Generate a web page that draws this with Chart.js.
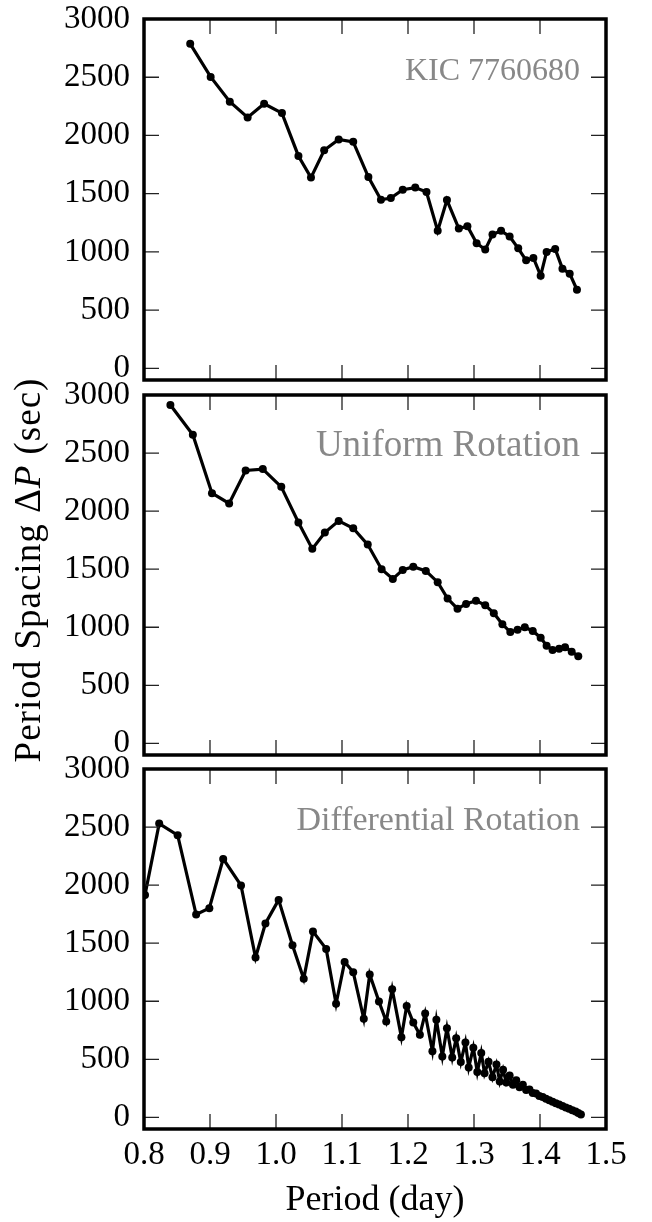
<!DOCTYPE html>
<html>
<head>
<meta charset="utf-8">
<script src="https://cdn.jsdelivr.net/npm/chart.js@4.4.1/dist/chart.umd.min.js"></script>
<style>
  html, body { margin: 0; padding: 0; background: #fff; }
  #wrap { position: relative; width: 652px; height: 1222px; }
  #wrap canvas { position: absolute; left: 0; top: 0; }
</style>
</head>
<body>
<div id="wrap">
  <canvas id="kicChart" width="652" height="1222"></canvas>
  <canvas id="uniformChart" width="652" height="1222"></canvas>
  <canvas id="diffChart" width="652" height="1222"></canvas>
</div>
<script>
const periodTicks  = [0.8, 0.9, 1.0, 1.1, 1.2, 1.3, 1.4, 1.5];
const spacingTicks = [0, 500, 1000, 1500, 2000, 2500, 3000];

// KIC 7760680 (observed)
const kicPeriod  = [0.870, 0.901, 0.930, 0.957, 0.982, 1.009, 1.034, 1.053, 1.073, 1.095, 1.117, 1.140,
                    1.159, 1.174, 1.192, 1.211, 1.228, 1.245, 1.259, 1.277, 1.290, 1.304, 1.317, 1.328,
                    1.341, 1.354, 1.367, 1.379, 1.390, 1.401, 1.410, 1.423, 1.434, 1.445, 1.456];
const kicSpacing = [2787, 2503, 2290, 2155, 2272, 2192, 1824, 1638, 1873, 1966, 1945, 1643,
                    1448, 1462, 1534, 1552, 1514, 1181, 1445, 1201, 1221, 1074, 1020, 1149,
                    1181, 1132, 1031, 928, 948, 796, 1000, 1026, 856, 813, 675];

// uniform rotation model
const uniformPeriod  = [0.840, 0.874, 0.903, 0.929, 0.954, 0.980, 1.008, 1.034, 1.055, 1.074, 1.095, 1.117,
                        1.139, 1.160, 1.177, 1.192, 1.208, 1.227, 1.245, 1.260, 1.275, 1.288, 1.303, 1.317,
                        1.330, 1.343, 1.355, 1.366, 1.377, 1.389, 1.401, 1.410, 1.419, 1.429, 1.438, 1.448, 1.458];
const uniformSpacing = [2914, 2658, 2155, 2066, 2350, 2362, 2209, 1902, 1675, 1816, 1916, 1853,
                        1712, 1500, 1416, 1494, 1522, 1485, 1388, 1247, 1160, 1201, 1229, 1190,
                        1121, 1026, 959, 979, 1000, 968, 910, 841, 804, 816, 828, 790, 750];

// differential rotation model
const diffPeriod  = [0.8015, 0.823, 0.851, 0.879, 0.899, 0.920, 0.947, 0.969, 0.984, 1.004, 1.025, 1.042,
                     1.056, 1.076, 1.091, 1.104, 1.117, 1.133, 1.142, 1.156, 1.167, 1.176, 1.190, 1.198,
                     1.208, 1.218, 1.226, 1.237, 1.243, 1.252, 1.259, 1.267, 1.273, 1.280, 1.287, 1.292,
                     1.299, 1.305, 1.311, 1.316, 1.322, 1.328, 1.334, 1.339, 1.344, 1.349, 1.354, 1.359,
                     1.364, 1.369, 1.374, 1.379, 1.384, 1.389, 1.394, 1.399, 1.404, 1.409, 1.414, 1.419,
                     1.424, 1.429, 1.434, 1.439, 1.444, 1.449, 1.454, 1.458, 1.462];
const diffSpacing = [1916, 2530, 2430, 1747, 1801, 2226, 1997, 1377, 1670, 1873, 1483, 1193,
                     1601, 1451, 978, 1339, 1250, 849, 1230, 998, 826, 1104, 691, 960,
                     817, 711, 895, 570, 840, 525, 768, 516, 682, 476, 645, 430,
                     600, 390, 555, 380, 480, 345, 455, 310, 410, 300, 360, 280,
                     320, 260, 280, 235, 240, 210, 205, 185, 175, 160, 148, 135,
                     122, 110, 98, 86, 74, 62, 50, 38, 25];

const serif = '"Liberation Serif", "Times New Roman", serif';

// box frame with inward ticks on all four sides, plus the panel label
const framePlugin = {
  id: 'frame',
  afterDatasetsDraw(chart, args, opts) {
    const { ctx, chartArea: a, scales: { x, y } } = chart;
    const len = 15;
    ctx.save();
    ctx.strokeStyle = '#222';
    ctx.lineWidth = 1.3;
    ctx.beginPath();
    periodTicks.forEach(v => {
      const px = x.getPixelForValue(v);
      ctx.moveTo(px, a.top); ctx.lineTo(px, a.top + len);
      ctx.moveTo(px, a.bottom); ctx.lineTo(px, a.bottom - len);
    });
    spacingTicks.forEach(v => {
      const py = y.getPixelForValue(v);
      ctx.moveTo(a.left, py); ctx.lineTo(a.left + len, py);
      ctx.moveTo(a.right, py); ctx.lineTo(a.right - len, py);
    });
    ctx.stroke();
    ctx.lineWidth = 3.5;
    ctx.strokeStyle = '#000';
    ctx.strokeRect(a.left, a.top, a.right - a.left, a.bottom - a.top);

    ctx.fillStyle = '#888';
    ctx.font = opts.size + 'px ' + serif;
    ctx.textAlign = 'right';
    ctx.textBaseline = 'alphabetic';
    ctx.fillText(opts.label, a.right - 26, a.top + 61);
    ctx.restore();
  }
};

// shared y title, drawn once on the middle panel
const yTitlePlugin = {
  id: 'yTitle',
  afterDraw(chart) {
    const { ctx, chartArea: a } = chart;
    const parts = [['Period Spacing \u0394', 'normal'], ['P', 'italic'], [' (sec)', 'normal']];
    ctx.save();
    ctx.translate(40, (a.top + a.bottom) / 2 - 5);
    ctx.rotate(-Math.PI / 2);
    ctx.fillStyle = '#000';
    ctx.textBaseline = 'alphabetic';
    ctx.textAlign = 'left';
    ctx.letterSpacing = '1px';
    let total = 0;
    parts.forEach(([t, s]) => { ctx.font = s + ' 37px ' + serif; total += ctx.measureText(t).width; });
    let cx = -total / 2;
    parts.forEach(([t, s]) => {
      ctx.font = s + ' 37px ' + serif;
      ctx.fillText(t, cx, 0);
      cx += ctx.measureText(t).width;
    });
    ctx.restore();
  }
};

function makeChart(id, period, spacing, label, labelSize, top, bottom, showX, extra) {
  const canvas = document.getElementById(id);
  return new Chart(canvas, {
    type: 'line',
    data: {
      datasets: [{
        data: period.map((p, i) => ({ x: p, y: spacing[i] })),
        borderColor: '#000',
        backgroundColor: '#000',
        borderWidth: 3.2,
        pointRadius: 4,
        pointHoverRadius: 4,
        pointBorderWidth: 0,
        pointBackgroundColor: '#000',
        tension: 0,
      }]
    },
    options: {
      responsive: false,
      animation: false,
      events: [],
      layout: { padding: { top: top, bottom: 1222 - bottom - (showX ? 93 : 0), left: 0, right: 46 } },
      plugins: {
        legend: { display: false },
        tooltip: { enabled: false },
        frame: { label: label, size: labelSize }
      },
      scales: {
        x: {
          type: 'linear',
          min: 0.8,
          max: 1.5,
          grid: { display: false, drawTicks: false },
          border: { display: false },
          afterBuildTicks: s => { s.ticks = periodTicks.map(v => ({ value: v })); },
          ticks: {
            display: showX, padding: 7, color: '#000', maxRotation: 0, autoSkip: false,
            font: { family: serif, size: 33 },
            callback: v => v.toFixed(1)
          },
          title: {
            display: showX, text: 'Period (day)', color: '#000',
            font: { family: serif, size: 36 }, padding: { top: 0, bottom: 0 }
          },
          afterFit: s => { s.height = showX ? 93 : 0; s.paddingLeft = 0; s.paddingRight = 0; }
        },
        y: {
          min: -100,
          max: 3000,
          grid: { display: false, drawTicks: false },
          border: { display: false },
          afterBuildTicks: s => { s.ticks = spacingTicks.map(v => ({ value: v })); },
          ticks: {
            padding: 14, color: '#000',
            font: { family: serif, size: 33 },
            callback: v => String(v)
          },
          afterFit: s => { s.width = 144; s.paddingTop = 0; s.paddingBottom = 0; }
        }
      }
    },
    plugins: [framePlugin].concat(extra || [])
  });
}

makeChart('kicChart', kicPeriod, kicSpacing, 'KIC 7760680', 32, 19, 380, false);
makeChart('uniformChart', uniformPeriod, uniformSpacing, 'Uniform Rotation', 37, 395, 755, false, [yTitlePlugin]);
makeChart('diffChart', diffPeriod, diffSpacing, 'Differential Rotation', 34, 769, 1129, true);
</script>
</body>
</html>
